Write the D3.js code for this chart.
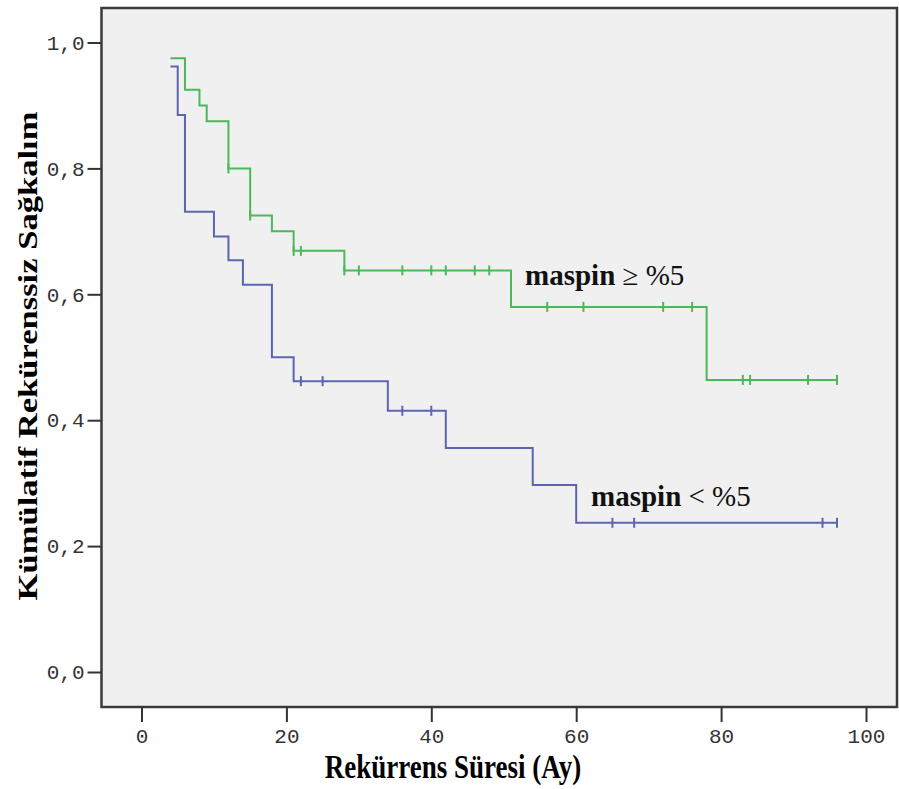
<!DOCTYPE html>
<html>
<head>
<meta charset="utf-8">
<script src="https://cdn.jsdelivr.net/npm/d3@7"></script>
<style>
  body { margin: 0; background: #fff; }
  svg { display: block; }
</style>
</head>
<body>
<div id="chart"></div>
<script>
// Kaplan-Meier data
var xTicks = [0, 20, 40, 60, 80, 100];
var yTicks = [0, 0.2, 0.4, 0.6, 0.8, 1.0];

// maspin >= %5 (green)
var highTimes = [4, 6, 8, 9, 12, 15, 18, 21, 28, 51, 78];
var highSurv = [0.975, 0.925, 0.9, 0.875, 0.8, 0.725, 0.7, 0.669, 0.638, 0.58, 0.464];
var highCensor = [12, 15, 21, 22, 28, 30, 36, 40, 42, 46, 48, 56, 61, 72, 76, 83, 84, 92, 96];
var highEnd = 96;

// maspin < %5 (blue)
var lowTimes = [4, 5, 6, 10, 12, 14, 18, 21, 34, 42, 54, 60];
var lowSurv = [0.962, 0.885, 0.731, 0.692, 0.654, 0.615, 0.5, 0.462, 0.415, 0.356, 0.297, 0.237];
var lowCensor = [22, 25, 36, 40, 65, 68, 94, 96];
var lowEnd = 96;

var svgWidth = 899;
var svgHeight = 789;

// plot frame
var frame = { left: 101.5, top: 8, right: 897, bottom: 707 };

var svg = d3.select('#chart')
    .append('svg')
    .attr('width', svgWidth)
    .attr('height', svgHeight);

svg.append('rect')
    .attr('x', frame.left)
    .attr('y', frame.top)
    .attr('width', frame.right - frame.left)
    .attr('height', frame.bottom - frame.top)
    .attr('fill', '#f0f0f0')
    .attr('stroke', '#3a3a3a')
    .attr('stroke-width', 2.5);

// Scales
var xScale = d3.scaleLinear().domain([0, 100]).range([141.5, 866]);
var yScale = d3.scaleLinear().domain([0, 1]).range([672, 42.5]);

// Axes
var yAxis = d3.axisLeft(yScale)
    .tickValues(yTicks)
    .tickSize(14)
    .tickPadding(3)
    .tickFormat(function (d) { return d.toFixed(1).replace('.', ','); });

var xAxis = d3.axisBottom(xScale)
    .tickValues(xTicks)
    .tickSize(15)
    .tickPadding(6)
    .tickFormat(d3.format('d'));

var yAxisGroup = svg.append('g')
    .attr('transform', 'translate(' + frame.left + ',0)')
    .call(yAxis);

var xAxisGroup = svg.append('g')
    .attr('transform', 'translate(0,' + frame.bottom + ')')
    .call(xAxis);

[yAxisGroup, xAxisGroup].forEach(function (g) {
    g.select('.domain').remove();
    g.selectAll('.tick line').attr('stroke', '#333').attr('stroke-width', 2);
    g.selectAll('.tick text')
        .attr('fill', '#333')
        .style('font-family', '"Liberation Mono", "DejaVu Sans Mono", monospace')
        .style('font-size', '21px');
});

// Step curves
function stepPoints(times, surv, end) {
    var pts = times.map(function (t, i) { return [t, surv[i]]; });
    pts.push([end, surv[surv.length - 1]]);
    return pts;
}

function survAt(times, surv, t) {
    var i = d3.bisectRight(times, t) - 1;
    return surv[Math.max(i, 0)];
}

var line = d3.line()
    .x(function (d) { return xScale(d[0]); })
    .y(function (d) { return yScale(d[1]); })
    .curve(d3.curveStepAfter);

var groups = [
    { times: highTimes, surv: highSurv, censor: highCensor, end: highEnd, color: '#4bb85a' },
    { times: lowTimes, surv: lowSurv, censor: lowCensor, end: lowEnd, color: '#5b65b0' }
];

groups.forEach(function (g) {
    svg.append('path')
        .datum(stepPoints(g.times, g.surv, g.end))
        .attr('d', line)
        .attr('fill', 'none')
        .attr('stroke', g.color)
        .attr('stroke-width', 2);

    svg.selectAll(null)
        .data(g.censor)
        .enter()
        .append('line')
        .attr('x1', function (d) { return xScale(d); })
        .attr('x2', function (d) { return xScale(d); })
        .attr('y1', function (d) { return yScale(survAt(g.times, g.surv, d)) - 5; })
        .attr('y2', function (d) { return yScale(survAt(g.times, g.surv, d)) + 5; })
        .attr('stroke', g.color)
        .attr('stroke-width', 2);
});

// Curve labels
function curveLabel(x, y, rest) {
    var t = svg.append('text')
        .attr('x', x)
        .attr('y', y)
        .style('font-family', '"Liberation Serif", "Times New Roman", serif')
        .style('font-size', '29px')
        .attr('fill', '#111');
    t.append('tspan').attr('font-weight', 'bold').text('maspin');
    t.append('tspan').text(rest);
}
curveLabel(525, 285, ' \u2265 %5');
curveLabel(591, 506, ' < %5');

// Axis titles
svg.append('text')
    .attr('transform', 'translate(453,778) scale(1,1.28)')
    .attr('text-anchor', 'middle')
    .style('font-family', '"Liberation Serif", "Times New Roman", serif')
    .style('font-size', '27px')
    .style('font-weight', 'bold')
    .text('Rekürrens Süresi (Ay)');

svg.append('text')
    .attr('transform', 'translate(37,356) scale(1,1.28) rotate(-90)')
    .attr('text-anchor', 'middle')
    .style('font-family', '"Liberation Serif", "Times New Roman", serif')
    .style('font-size', '27px')
    .style('font-weight', 'bold')
    .text('Kümülatif Rekürenssiz Sağkalım');
</script>
</body>
</html>
